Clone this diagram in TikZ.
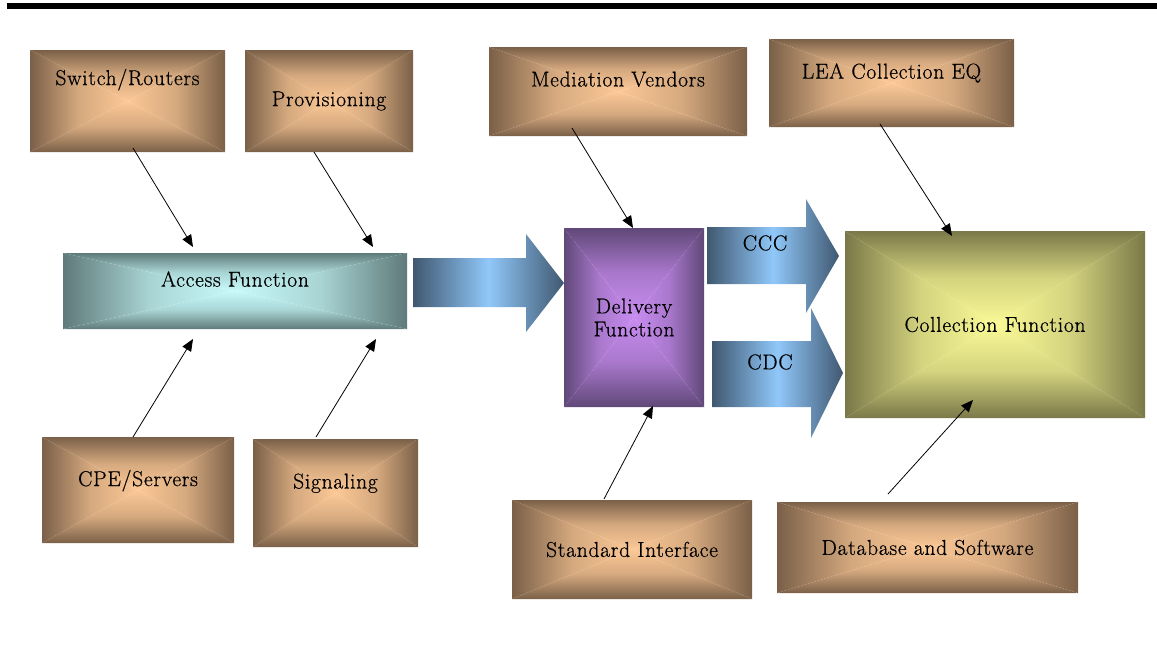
\documentclass[tikz,border=0pt]{standalone}
\usepackage{fontspec}
\setmainfont{Latin Modern Roman}[LetterSpace=3.4, FakeBold=0.6]
\usetikzlibrary{arrows.meta,calc}
\pgfdeclarelayer{background}
\pgfsetlayers{background,main}
\definecolor{brD}{HTML}{7A6048}
\definecolor{brL}{HTML}{FCC896}
\definecolor{teD}{HTML}{5F7A7A}
\definecolor{teL}{HTML}{C8FAFA}
\definecolor{puD}{HTML}{604878}
\definecolor{puL}{HTML}{C88CF0}
\definecolor{olD}{HTML}{7A7848}
\definecolor{olL}{HTML}{FAFA96}
\definecolor{blD}{HTML}{405870}
\definecolor{blL}{HTML}{90C8FA}
\newcommand\gshade[3]{%
  \begin{pgfonlayer}{background}
    \shade[top color=#2, bottom color=#3, middle color=#3!70!#2]
      (#1.north west) -- (#1.north east) -- (#1.center) -- cycle;
    \shade[bottom color=#2, top color=#3, middle color=#3!70!#2]
      (#1.south west) -- (#1.south east) -- (#1.center) -- cycle;
    \shade[left color=#2, right color=#3, middle color=#3!70!#2]
      (#1.north west) -- (#1.south west) -- (#1.center) -- cycle;
    \shade[right color=#2, left color=#3, middle color=#3!70!#2]
      (#1.north east) -- (#1.south east) -- (#1.center) -- cycle;
  \end{pgfonlayer}}
\newcommand\up[2]{\raisebox{#1}{#2}}
\tikzset{
  box/.style={rectangle, inner sep=0pt, outer sep=0pt, align=center,
    font=\fontsize{21.5}{23}\selectfont},
  conn/.style={-{Triangle[length=12pt,width=10pt]}, line width=0.8pt, black},
  bigarrow/.style={left color=blD, right color=blD, middle color=blL},
  lbl/.style={inner sep=0pt, font=\fontsize{21.5}{23}\selectfont},
}
\begin{document}
\begin{tikzpicture}[x=1pt,y=-1pt]
\useasboundingbox (0,0) rectangle (1157,645);
\fill[black] (7,3) rectangle (1157,8.5);
% boxes
\node[box, minimum width=195, minimum height=102] (sw)  at (127.5,101) {\up{48pt}{Switch/Routers}};
\node[box, minimum width=168, minimum height=102] (pv)  at (329,101)   {Provisioning};
\node[box, minimum width=344, minimum height=76]  (af)  at (235,291)   {\up{24pt}{Access Function}};
\node[box, minimum width=192, minimum height=106] (cpe) at (138,490)   {\up{24pt}{CPE/Servers}};
\node[box, minimum width=165, minimum height=108] (sig) at (335.5,493) {\up{24pt}{Signaling}};
\node[box, minimum width=258, minimum height=89]  (mv)  at (618,91.5)  {\up{25pt}{Mediation Vendors}};
\node[box, minimum width=140, minimum height=179] (df)  at (634,317.5) {Delivery\\Function};
\node[box, minimum width=240, minimum height=99]  (si)  at (632,549.5) {Standard Interface};
\node[box, minimum width=245, minimum height=88]  (lea) at (891.5,83)  {\up{24pt}{LEA Collection EQ}};
\node[box, minimum width=300, minimum height=187] (cf)  at (995,324.5) {Collection Function};
\node[box, minimum width=301, minimum height=91]  (db)  at (927.5,547.5) {Database and Software};
\gshade{sw}{brD}{brL}
\gshade{pv}{brD}{brL}
\gshade{cpe}{brD}{brL}
\gshade{sig}{brD}{brL}
\gshade{mv}{brD}{brL}
\gshade{si}{brD}{brL}
\gshade{lea}{brD}{brL}
\gshade{db}{brD}{brL}
\gshade{af}{teD}{teL}
\gshade{df}{puD}{puL}
\gshade{cf}{olD}{olL}
% block arrows
\begin{pgfonlayer}{background}
\shade[bigarrow] (413,258) -- (526,258) -- (526,234) -- (564,283) -- (526,332) -- (526,307) -- (413,307) -- cycle;
\shade[bigarrow] (707,227) -- (806,227) -- (806,199) -- (839,256) -- (806,313) -- (806,284) -- (707,284) -- cycle;
\shade[bigarrow] (712,341) -- (811,341) -- (811,308) -- (843,373) -- (811,438) -- (811,407) -- (712,407) -- cycle;
\end{pgfonlayer}
\node[lbl] (ccc) at (765,243) {CCC};
\node[lbl] (cdc) at (770,362) {CDC};
% connectors
\draw[conn] ([shift={(5.5,-4)}]sw.south) -- ([shift={(-42,-6)}]af.north);
\draw[conn] ([shift={(-15,0)}]pv.south) -- ([shift={(138,-6)}]af.north);
\draw[conn] ([shift={(-5,0)}]cpe.north) -- ([shift={(-42,10)}]af.south);
\draw[conn] ([shift={(-19.5,-2)}]sig.north) -- ([shift={(141,10)}]af.south);
\draw[conn] ([shift={(-46,-8)}]mv.south) -- ([shift={(-1,0)}]df.north);
\draw[conn] ([shift={(-28,-1)}]si.north) -- ([shift={(19,-1)}]df.south);
\draw[conn] ([shift={(-11.5,-3)}]lea.south) -- ([shift={(-43,5)}]cf.north);
\draw[conn] ([shift={(-39.5,-8)}]db.north) -- ([shift={(-22,-18)}]cf.south);
\end{tikzpicture}
\end{document}
